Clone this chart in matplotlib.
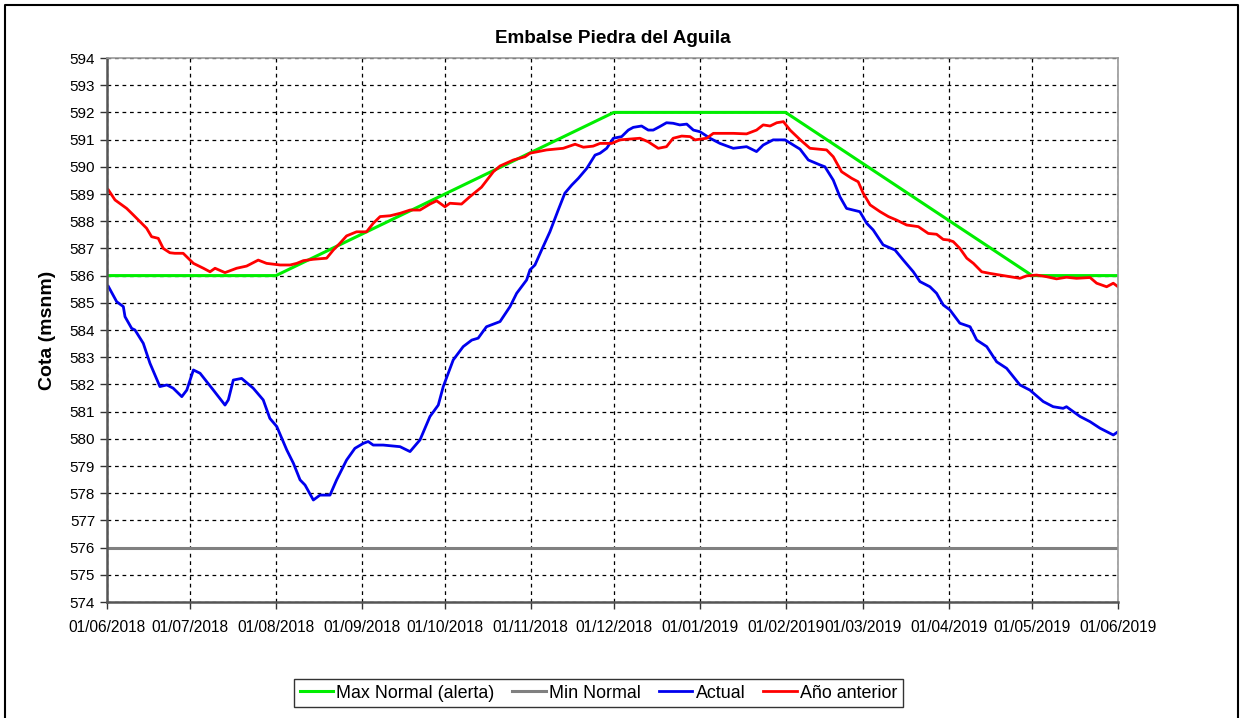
import numpy as np
import pandas as pd
import matplotlib
matplotlib.use("Agg")
import matplotlib.pyplot as plt
import matplotlib.dates as mdates
from matplotlib.lines import Line2D

plt.rcParams['font.family'] = ['Liberation Sans', 'DejaVu Sans']

# Fechas: dias desde 01/06/2018
inicio = pd.Timestamp("2018-06-01")

max_dias = [0, 61, 183, 245, 334, 365]
max_vals = [586, 586, 592, 592, 586, 586]

min_dias = [0, 365]
min_vals = [576, 576]

actual_dias = [0.5, 3.5, 5.9, 6.5, 8.9, 10.1, 13.1, 15.5, 19.1, 21.6, 23.9, 27, 28.8,
               31.2, 33.6, 38.4, 42.6, 43.8, 45.6, 48.6, 52.8, 56.4, 58.8, 61.3, 64.9,
               67.3, 69.7, 71.5, 74.5, 76.9, 80.5, 82.9, 86.5, 89.5, 92.5, 94.3, 96.1,
               99.7, 105.8, 109.4, 113, 116.6, 119.6, 121.4, 125, 128.6, 131.7, 134, 137,
               141.9, 145.5, 147.9, 151.5, 152.7, 154.5, 156.9, 159.9, 162.9, 165.3,
               167.8, 170.2, 173.2, 176.2, 178, 180.4, 182.8, 185.8, 188.2, 190, 193,
               195.4, 197.2, 199.6, 202, 204.4, 206.8, 209.3, 211.7, 214.1, 217.7, 221.3,
               226.1, 230.9, 234.5, 236.9, 240.5, 244.8, 247.8, 250.2, 253.2, 257.4,
               259.2, 262.2, 264.6, 267, 271.8, 274.3, 276.6, 280.2, 284.5, 287.5, 291.1,
               293.5, 297.1, 299.5, 301.9, 304.3, 307.9, 311.6, 314, 317.6, 321.2, 324.8,
               329.6, 333.2, 338, 341.6, 345.2, 346.4, 351.3, 354.9, 358.5, 363.3, 365]
actual_vals = [585.6, 585.04, 584.86, 584.49, 584.06, 584.0, 583.51, 582.78, 581.92,
               581.98, 581.86, 581.55, 581.79, 582.53, 582.41, 581.79, 581.24, 581.43,
               582.16, 582.22, 581.86, 581.43, 580.75, 580.45, 579.59, 579.10, 578.49,
               578.30, 577.75, 577.93, 577.93, 578.49, 579.22, 579.65, 579.83, 579.90,
               579.77, 579.77, 579.71, 579.53, 579.96, 580.82, 581.24, 581.92, 582.90,
               583.39, 583.63, 583.70, 584.12, 584.31, 584.86, 585.35, 585.84, 586.21,
               586.39, 586.94, 587.61, 588.41, 589.03, 589.33, 589.58, 589.94, 590.43,
               590.50, 590.68, 591.05, 591.11, 591.35, 591.45, 591.50, 591.35, 591.35,
               591.48, 591.62, 591.60, 591.54, 591.57, 591.35, 591.29, 591.05, 590.86,
               590.68, 590.74, 590.56, 590.80, 590.99, 590.99, 590.80, 590.65, 590.25,
               590.07, 590.0, 589.51, 588.90, 588.47, 588.35, 587.92, 587.68, 587.13,
               586.94, 586.57, 586.14, 585.78, 585.59, 585.35, 584.92, 584.74, 584.25,
               584.12, 583.63, 583.39, 582.83, 582.59, 581.98, 581.79, 581.37, 581.18,
               581.12, 581.18, 580.82, 580.63, 580.39, 580.14, 580.26]

anterior_dias = [0.5, 2.9, 7.1, 9.5, 14.3, 16.1, 18.5, 20.3, 22.7, 24.5, 27.5, 31.2,
                 34.8, 37.2, 39, 42.6, 46.8, 50.4, 54.6, 57.6, 62.5, 66.1, 68.5, 70.9,
                 74.5, 79.3, 81.7, 84.1, 86.5, 90.1, 93.7, 96.1, 98.6, 102.2, 105.8,
                 109.4, 113, 116.6, 119, 122, 123.8, 128, 131, 135.2, 139.5, 141.9,
                 146.7, 150.9, 152.7, 158.7, 164.7, 169, 172, 175.5, 178, 182.2, 185.2,
                 192.4, 195.4, 199, 202, 204.4, 207.5, 210.5, 212.3, 216.5, 218.9, 226.1,
                 230.9, 234.5, 236.9, 239.4, 241.8, 244.2, 246.6, 250.2, 253.8, 259.8,
                 262.2, 265.2, 268.8, 271.2, 273, 275.5, 279.1, 282.1, 285.1, 288.7,
                 292.9, 296.5, 299.5, 301.9, 303.7, 305.5, 307.9, 310.4, 312.8, 315.8,
                 318.8, 322.4, 326, 329.6, 332, 335.6, 339.2, 342.8, 346.4, 350, 354.9,
                 357.3, 360.9, 363.3, 365]
anterior_vals = [589.15, 588.78, 588.47, 588.23, 587.74, 587.43, 587.37, 587.0, 586.84,
                 586.82, 586.82, 586.45, 586.27, 586.14, 586.27, 586.11, 586.27, 586.35,
                 586.57, 586.45, 586.39, 586.39, 586.45, 586.55, 586.60, 586.64, 586.94,
                 587.19, 587.46, 587.61, 587.61, 587.92, 588.17, 588.20, 588.29, 588.41,
                 588.41, 588.63, 588.75, 588.53, 588.66, 588.63, 588.90, 589.25, 589.82,
                 590.03, 590.25, 590.37, 590.50, 590.62, 590.68, 590.83, 590.72, 590.76,
                 590.86, 590.86, 590.99, 591.05, 590.92, 590.68, 590.74, 591.05, 591.13,
                 591.11, 590.99, 591.05, 591.23, 591.23, 591.21, 591.35, 591.54, 591.50,
                 591.62, 591.66, 591.35, 591.0, 590.68, 590.62, 590.37, 589.82, 589.58,
                 589.45, 589.03, 588.60, 588.35, 588.17, 588.04, 587.86, 587.80, 587.55,
                 587.52, 587.33, 587.31, 587.25, 587.0, 586.64, 586.45, 586.14, 586.08,
                 586.02, 585.96, 585.90, 585.99, 586.02, 585.96, 585.88, 585.94, 585.90,
                 585.93, 585.72, 585.59, 585.72, 585.59]


def fechas(dias):
    return inicio + pd.to_timedelta(np.array(dias, dtype=float), unit="D")


fig = plt.figure(figsize=(12.44, 7.18), dpi=100)
ax = fig.add_axes([107 / 1244, 1 - 602 / 718, 1011 / 1244, 544 / 718])

ax.plot(fechas(max_dias), max_vals, color="#00ee00", lw=2.2, label="Max Normal (alerta)")
ax.plot(fechas(min_dias), min_vals, color="#808080", lw=2.2, label="Min Normal")
ax.plot(fechas(actual_dias), actual_vals, color="#0000ee", lw=2.0, label="Actual")
ax.plot(fechas(anterior_dias), anterior_vals, color="#ff0000", lw=2.0, label="Año anterior")

ax.set_xlim(inicio, inicio + pd.Timedelta(days=365))
ax.set_ylim(574, 594)
ax.set_yticks(np.arange(574, 595, 1))
ax.xaxis.set_major_locator(mdates.MonthLocator())
ax.xaxis.set_major_formatter(mdates.DateFormatter("%d/%m/%Y"))

ax.grid(True, color="black", linestyle=(0, (3, 3)), linewidth=0.9)
ax.tick_params(axis="both", direction="out", length=5, width=1, color="#333333")
ax.tick_params(axis="x", labelsize=11.2, pad=8)
ax.tick_params(axis="y", labelsize=11)

for s in ["left", "bottom"]:
    ax.spines[s].set_color("#555555")
    ax.spines[s].set_linewidth(1.8)
for s in ["top", "right"]:
    ax.spines[s].set_color("#999999")
    ax.spines[s].set_linewidth(1.2)

ax.set_title("Embalse Piedra del Aguila", fontsize=13.6, fontweight="bold", pad=11)
ax.set_ylabel("Cota (msnm)", fontsize=14, fontweight="bold", labelpad=10)

fig.legend(loc="center", bbox_to_anchor=(598.5 / 1244, 1 - 693 / 718), ncol=4,
           frameon=True, fancybox=False, edgecolor="black", fontsize=12.9,
           handlelength=1.85, handletextpad=0.2, columnspacing=1.0,
           borderpad=0.3, borderaxespad=0)

# marco exterior de la figura
fig.add_artist(Line2D([5 / 1244, 5 / 1244, 1238 / 1244, 1238 / 1244],
                      [0, 1 - 5 / 718, 1 - 5 / 718, 0],
                      color="black", lw=1.5, transform=fig.transFigure))

fig.savefig("out.png", dpi=100)
